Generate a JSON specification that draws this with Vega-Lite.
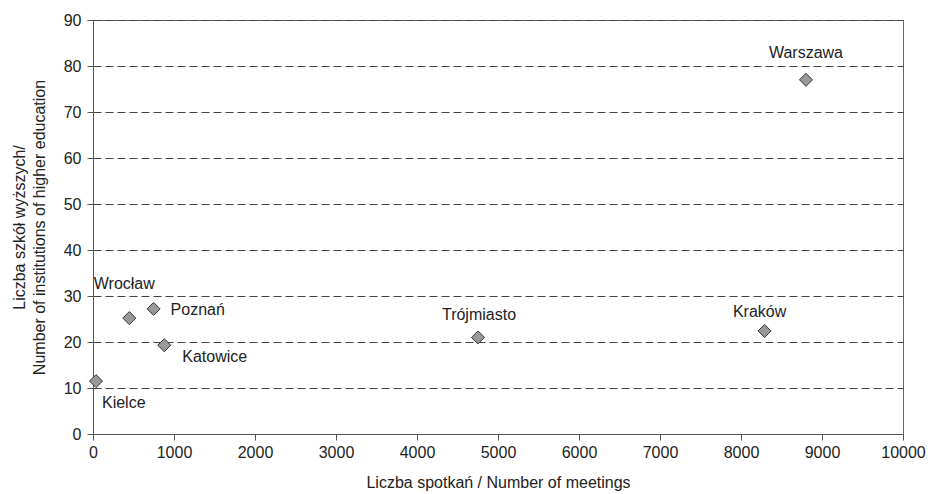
{
  "$schema": "https://vega.github.io/schema/vega-lite/v6.json",
  "autosize": "none",
  "width": 810,
  "height": 414,
  "padding": {"left": 93, "top": 20, "right": 28, "bottom": 60},
  "background": "white",
  "config": {
    "view": {"stroke": "#666", "strokeWidth": 1},
    "font": "Liberation Sans",
    "axis": {
      "labelFont": "Liberation Sans",
      "titleFont": "Liberation Sans",
      "labelFontSize": 16,
      "titleFontSize": 16,
      "labelColor": "#222",
      "titleColor": "#222",
      "titleFontWeight": "normal",
      "domainColor": "#555",
      "tickColor": "#555",
      "tickSize": 6
    }
  },
  "data": {
    "values": [
      {"city": "Warszawa", "meetings": 8802, "institutions": 77.0},
      {"city": "Kraków", "meetings": 8291, "institutions": 22.4},
      {"city": "Trójmiasto", "meetings": 4753, "institutions": 21.0},
      {"city": "Wrocław", "meetings": 448, "institutions": 25.2},
      {"city": "Poznań", "meetings": 748, "institutions": 27.2},
      {"city": "Katowice", "meetings": 880, "institutions": 19.3},
      {"city": "Kielce", "meetings": 37, "institutions": 11.5}
    ]
  },
  "encoding": {
    "x": {
      "field": "meetings", "type": "quantitative",
      "scale": {"domain": [0, 10000], "nice": false, "zero": true},
      "axis": {"values": [0,1000,2000,3000,4000,5000,6000,7000,8000,9000,10000], "format": "d", "grid": false, "title": "Liczba spotkań / Number of meetings", "labelPadding": 4, "titlePadding": 14, "labelFlush": false}
    },
    "y": {
      "field": "institutions", "type": "quantitative",
      "scale": {"domain": [0, 90], "nice": false},
      "axis": {"values": [0,10,20,30,40,50,60,70,80,90], "grid": true, "gridColor": "#444", "gridDash": [8, 4], "gridWidth": 1, "title": ["Liczba szkół wyższych/", "Number of institutions of higher education"], "titleLineHeight": 20, "labelPadding": 6, "titlePadding": 16, "labelFlush": false}
    }
  },
  "layer": [
    {
      "mark": {"type": "point", "shape": "diamond", "filled": true, "size": 170, "fill": "#999", "stroke": "#333", "strokeWidth": 1, "opacity": 1}
    },
    {
      "transform": [{"filter": "datum.city === 'Warszawa'"}],
      "mark": {"type": "text", "align": "center", "baseline": "middle", "dy": -27, "fontSize": 16, "font": "Liberation Sans", "color": "#222"},
      "encoding": {"text": {"field": "city"}}
    },
    {
      "transform": [{"filter": "datum.city === 'Kraków'"}],
      "mark": {"type": "text", "align": "center", "baseline": "middle", "dx": -5, "dy": -19, "fontSize": 16, "font": "Liberation Sans", "color": "#222"},
      "encoding": {"text": {"field": "city"}}
    },
    {
      "transform": [{"filter": "datum.city === 'Trójmiasto'"}],
      "mark": {"type": "text", "align": "center", "baseline": "middle", "dx": 1, "dy": -22, "fontSize": 16, "font": "Liberation Sans", "color": "#222"},
      "encoding": {"text": {"field": "city"}}
    },
    {
      "transform": [{"filter": "datum.city === 'Wrocław'"}],
      "mark": {"type": "text", "align": "center", "baseline": "middle", "dx": -5, "dy": -34, "fontSize": 16, "font": "Liberation Sans", "color": "#222"},
      "encoding": {"text": {"field": "city"}}
    },
    {
      "transform": [{"filter": "datum.city === 'Poznań'"}],
      "mark": {"type": "text", "align": "left", "baseline": "middle", "dx": 17, "dy": 1, "fontSize": 16, "font": "Liberation Sans", "color": "#222"},
      "encoding": {"text": {"field": "city"}}
    },
    {
      "transform": [{"filter": "datum.city === 'Katowice'"}],
      "mark": {"type": "text", "align": "left", "baseline": "middle", "dx": 18, "dy": 12, "fontSize": 16, "font": "Liberation Sans", "color": "#222"},
      "encoding": {"text": {"field": "city"}}
    },
    {
      "transform": [{"filter": "datum.city === 'Kielce'"}],
      "mark": {"type": "text", "align": "left", "baseline": "middle", "dx": 6, "dy": 22, "fontSize": 16, "font": "Liberation Sans", "color": "#222"},
      "encoding": {"text": {"field": "city"}}
    }
  ]
}
